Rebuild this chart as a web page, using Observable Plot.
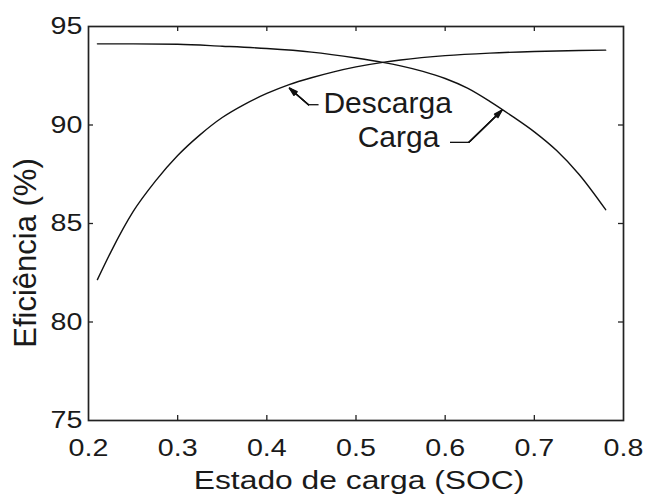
<!DOCTYPE html>
<html><head><meta charset="utf-8">
<script src="https://cdn.jsdelivr.net/npm/d3@7"></script>
<script src="https://cdn.jsdelivr.net/npm/@observablehq/plot@0.6"></script>
<style>
html,body{margin:0;padding:0;background:#fff;}
</style></head><body><div id="chart"></div>
<script>
// Descarga (rising curve)
const socDescarga = [0.21, 0.225, 0.25, 0.275, 0.30, 0.325, 0.35, 0.375, 0.40, 0.425, 0.45, 0.475, 0.50, 0.53, 0.55, 0.60, 0.65, 0.70, 0.75, 0.78];
const effDescarga = [82.15, 83.55, 85.6, 87.15, 88.45, 89.5, 90.38, 91.05, 91.6, 92.05, 92.4, 92.7, 92.95, 93.18, 93.3, 93.52, 93.65, 93.73, 93.78, 93.8];
// Carga (falling curve)
const socCarga = [0.21, 0.25, 0.30, 0.35, 0.40, 0.45, 0.50, 0.53, 0.55, 0.575, 0.60, 0.625, 0.65, 0.675, 0.70, 0.725, 0.75, 0.78];
const effCarga = [94.12, 94.12, 94.1, 94.0, 93.88, 93.7, 93.4, 93.18, 93.0, 92.72, 92.36, 91.87, 91.2, 90.45, 89.65, 88.7, 87.5, 85.7];

const xTicks = [0.2, 0.3, 0.4, 0.5, 0.6, 0.7, 0.8];
const yTicks = [75, 80, 85, 90, 95];
const xInnerTicks = [0.3, 0.4, 0.5, 0.6, 0.7];
const yInnerTicks = [80, 85, 90];

const xLabel = "Estado de carga (SOC)";
const yLabel = "Eficiência (%)";

// annotation labels and leaders (data units)
const labelNames = ["Descarga", "Carga"];
const labelSoc = [0.4635, 0.5019];
const labelEff = [90.59, 88.86];
const leaderSoc1 = [0.458, 0.6054];
const leaderSoc2 = [0.4467, 0.6267];
const leaderEff = [91.03, 89.12];
const tipSoc = [0.4254, 0.6637];
const tipEff = [91.87, 90.75];

const W = 646, H = 497, mL = 88, mR = 23, mT = 26, mB = 77;
const frameH = H - mT - mB, frameW = W - mL - mR, tickLen = 5;
const ink = "#1a1a1a";

const descarga = socDescarga.map((x, i) => ({x, y: effDescarga[i]}));
const carga = socCarga.map((x, i) => ({x, y: effCarga[i]}));
const labels = labelNames.map((t, i) => ({t, x: labelSoc[i], y: labelEff[i]}));
const leaders = labelNames.map((t, i) => ({x1: leaderSoc1[i], x2: leaderSoc2[i], y: leaderEff[i], tx: tipSoc[i], ty: tipEff[i]}));

const arrowOpts = (angle) => ({x1: "x2", y1: "y", x2: "tx", y2: "ty", stroke: "#111", strokeWidth: 1.4, headLength: 9, headAngle: angle});

const chart = Plot.plot({
  width: W, height: H,
  marginLeft: mL, marginRight: mR, marginTop: mT, marginBottom: mB,
  style: {fontFamily: "'Liberation Sans', Arial, Helvetica, sans-serif", color: ink, background: "#fff"},
  x: {domain: [0.2, 0.8]},
  y: {domain: [75, 95]},
  marks: [
    Plot.ruleX(xInnerTicks, {x: d => d, insetTop: frameH - tickLen, stroke: "#222", strokeWidth: 1.3}),
    Plot.ruleX(xInnerTicks, {x: d => d, insetBottom: frameH - tickLen, stroke: "#222", strokeWidth: 1.3}),
    Plot.ruleY(yInnerTicks, {y: d => d, insetRight: frameW - tickLen, stroke: "#222", strokeWidth: 1.3}),
    Plot.ruleY(yInnerTicks, {y: d => d, insetLeft: frameW - tickLen, stroke: "#222", strokeWidth: 1.3}),
    Plot.frame({stroke: "#222", strokeWidth: 1.7}),
    Plot.axisX({ticks: xTicks, tickSize: 0, tickPadding: 18, fontSize: 24.5, tickFormat: d => d.toFixed(1), label: null}),
    Plot.axisY({ticks: yTicks, tickSize: 0, tickPadding: 6, fontSize: 24.5, tickFormat: d => String(d), label: null}),
    Plot.text([xLabel], {text: d => d, frameAnchor: "bottom", textAnchor: "middle", dx: 3, dy: 68.5, lineAnchor: "bottom", fontSize: 26.5, fill: ink, className: "xlab"}),
    Plot.text([yLabel], {text: d => d, frameAnchor: "left", textAnchor: "middle", rotate: -90, dx: -52.5, dy: 29.5, lineAnchor: "bottom", fontSize: 31, fill: ink}),
    Plot.line(descarga, {x: "x", y: "y", curve: "monotone-x", stroke: "#111", strokeWidth: 1.4}),
    Plot.line(carga, {x: "x", y: "y", curve: "monotone-x", stroke: "#111", strokeWidth: 1.4}),
    Plot.link(leaders, {x1: "x1", x2: "x2", y1: "y", y2: "y", stroke: "#111", strokeWidth: 1.3}),
    Plot.arrow(leaders, arrowOpts(34)),
    Plot.arrow(leaders, arrowOpts(22)),
    Plot.arrow(leaders, arrowOpts(10)),
    Plot.text(labels, {x: "x", y: "y", text: "t", textAnchor: "start", lineAnchor: "bottom", fontSize: 30, fill: ink})
  ]
});

document.getElementById("chart").appendChild(chart);

function stretch(sel, k) {
  d3.select(chart).selectAll(sel).attr("transform", function () {
    return (this.getAttribute("transform") || "") + ` scale(${k},1)`;
  });
}
stretch('g[aria-label="x-axis tick label"] text', 1.17);
stretch('g[aria-label="y-axis tick label"] text', 1.17);
stretch('g.xlab text', 1.2);
</script></body></html>
